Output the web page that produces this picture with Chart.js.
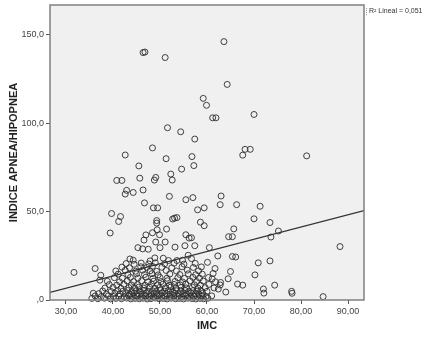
<!DOCTYPE html>
<html lang="es">
<head>
<meta charset="UTF-8">
<title>IMC - Indice apnea/hipopnea</title>
<script src="https://cdn.jsdelivr.net/npm/chart.js"></script>
</head>
<body style="margin:0; background:#fff;">

<div style="width:426px; height:341px;">
    <canvas id="myChart" width="426" height="341"></canvas>
</div>

<script>
// casos con IAH alto (puntos sueltos de la parte superior)
const puntosAltos = [
    [46.4,139.9],[46.8,140.2],[51.1,137.1],[63.6,146.1],[64.3,121.9],[59.2,114.0],[59.9,110.1],
    [61.2,103.0],[61.9,103.0],[70.0,104.9],[51.6,97.4],[54.4,95.1],[57.4,91.0],[48.4,86.0],
    [42.6,82.0],[51.3,79.9],[56.8,81.1],[45.5,75.8],[57.2,76.0],[54.6,74.0],[52.3,71.2],
    [45.7,68.9],[49.1,69.3],[48.8,67.8],[40.8,67.6],[41.9,67.6],[52.6,67.8],[42.9,62.0],
    [42.6,59.9],[44.3,60.8],[46.4,62.2],[52.0,58.6],[55.5,56.7],[57.0,57.9],[63.0,58.8],
    [62.8,53.9],[66.3,53.9],[46.7,54.9],[48.6,52.1],[49.5,52.1],[58.0,51.0],[59.4,52.1],
    [71.3,53.0],[67.6,81.9],[68.1,85.2],[69.2,85.2],[81.2,81.5]
];

// casos intermedios
const puntosMedios = [
    [39.7,48.9],[41.6,47.2],[41.2,44.4],[49.3,44.9],[49.3,43.5],[52.7,45.8],[53.1,46.3],
    [53.6,46.6],[58.6,44.0],[59.4,42.0],[70.0,45.9],[73.4,43.8],[49.4,39.7],[51.4,40.1],
    [65.7,40.2],[75.2,39.0],[39.4,37.9],[48.4,38.0],[47.0,36.8],[49.9,36.9],[55.5,36.9],
    [56.2,35.0],[56.7,35.2],[64.6,35.8],[65.4,35.8],[73.6,35.6],[46.6,33.9],[49.1,32.8],
    [51.1,32.8],[45.3,29.6],[46.3,28.9],[47.5,28.7],[50.0,29.6],[53.2,29.9],[55.3,30.7],
    [57.4,30.7],[60.5,29.6],[88.3,30.2],[62.3,24.9],[65.4,24.6],[66.1,24.3],[60.1,21.3],
    [70.9,21.0],[73.4,22.1],[61.7,17.8],[61.3,15.0],[65.0,16.1],[70.2,14.2],[61.1,12.0],
    [62.9,9.9],[64.5,12.0],[66.5,9.0],[67.6,8.4],[74.4,8.4],[72.0,6.2],[72.1,3.9],
    [78.0,4.9],[78.1,3.8],[84.7,1.9],[64.0,4.5],[62.4,6.2],[31.7,15.6],[36.2,17.8],
    [48.9,23.8],[47.9,22.1],[50.7,23.6],[51.8,22.3],[53.6,22.3],[54.8,22.5],[56.0,25.3],
    [56.7,23.4],[43.6,23.2],[44.3,22.5]
];

// nube densa de IAH bajo
const puntosBajos = [
    [35.5,0.9],[36.8,0.7],[38.2,1.0],[39.5,0.6],[40.6,0.9],[41.8,0.7],[42.9,1.1],[43.8,0.6],
    [44.7,0.9],[45.6,0.7],[46.4,1.0],[47.3,0.6],[48.1,0.8],[49.0,1.1],[49.8,0.7],[50.7,0.9],
    [51.5,0.6],[52.4,1.0],[53.3,0.7],[54.1,0.9],[55.0,0.6],[55.9,1.0],[56.8,0.8],[57.6,0.6],
    [58.5,0.9],[59.3,0.7],[60.2,1.0],
    [36.2,2.3],[37.5,1.9],[39.0,2.4],[40.1,2.0],[41.2,2.2],[42.4,1.8],[43.3,2.5],[44.2,2.0],
    [45.1,2.3],[46.0,1.9],[46.9,2.4],[47.7,2.1],[48.6,1.8],[49.4,2.4],[50.3,2.0],[51.1,2.3],
    [52.0,1.9],[52.9,2.5],[53.7,2.1],[54.6,1.8],[55.4,2.4],[56.3,2.0],[57.2,2.2],[58.0,1.9],
    [58.9,2.4],[59.8,2.0],[61.0,2.3],
    [35.8,3.8],[37.0,3.6],[38.6,3.3],[40.4,3.8],[41.5,3.4],[42.7,3.7],[43.6,3.2],[44.5,3.9],
    [45.4,3.5],[46.2,3.3],[47.1,3.8],[48.0,3.4],[48.8,3.7],[49.7,3.2],[50.5,3.9],[51.4,3.5],
    [52.2,3.3],[53.1,3.8],[54.0,3.4],[54.9,3.6],[55.7,3.2],[56.6,3.9],[57.5,3.5],[58.3,3.3],
    [59.1,3.7],
    [37.8,5.1],[39.6,4.8],[41.0,5.3],[42.1,4.9],[43.1,5.4],[44.0,4.8],[44.9,5.2],[45.8,5.0],
    [46.6,5.5],[47.5,4.9],[48.4,5.2],[49.2,4.8],[50.1,5.4],[51.0,5.0],[51.8,5.3],[52.7,4.8],
    [53.5,5.2],[54.4,5.0],[55.3,5.5],[56.1,4.9],[57.0,5.3],[57.9,5.0],[58.7,5.2],[60.0,4.9],
    [38.3,6.8],[40.0,7.1],[41.7,6.6],[43.4,7.0],[44.6,6.7],[45.5,7.3],[46.5,6.8],[47.8,7.2],
    [48.9,6.6],[49.9,7.0],[51.2,6.9],[52.3,7.3],[53.4,6.7],[54.5,7.1],[55.6,6.8],[56.9,7.2],
    [58.1,6.7],[59.6,7.0],[61.5,6.8],
    [39.2,8.7],[40.8,8.4],[42.3,8.9],[43.9,8.5],[45.2,8.8],[46.8,8.3],[48.2,9.0],[49.5,8.6],
    [50.6,8.9],[52.0,8.4],[53.0,8.8],[54.3,8.5],[55.5,9.0],[57.3,8.6],[58.6,8.4],[60.4,8.8],
    [62.8,8.5],
    [38.8,10.6],[41.4,10.3],[43.0,10.8],[44.4,10.4],[46.1,10.9],[47.4,10.2],[48.7,10.7],
    [50.2,10.4],[51.6,10.9],[53.2,10.5],[54.8,10.2],[56.4,10.8],[57.8,10.4],[59.2,10.7],
    [61.8,10.3],
    [37.2,11.2],[40.3,12.6],[42.0,12.3],[43.7,12.8],[45.3,12.4],[47.0,12.9],[48.5,12.2],
    [50.0,12.7],[51.5,12.3],[53.8,12.6],[55.2,12.2],[57.0,12.8],[58.4,12.4],[60.3,12.7],
    [37.4,14.0],[41.1,14.6],[43.2,14.3],[45.0,14.8],[46.7,14.4],[48.3,14.9],[49.6,14.2],
    [52.1,14.7],[54.2,14.4],[56.0,14.8],[57.6,14.3],[59.0,14.6],
    [40.6,16.4],[42.6,16.8],[44.8,16.3],[46.3,16.9],[47.9,16.5],[49.3,16.2],[51.3,16.7],
    [53.5,16.4],[55.8,16.9],[58.2,16.5],
    [41.9,18.6],[43.5,18.2],[45.9,18.8],[47.2,18.4],[48.4,19.0],[50.4,18.5],[52.5,18.2],
    [54.7,18.8],[57.1,18.4],[58.8,18.7],
    [42.8,20.6],[44.5,20.2],[46.0,20.9],[47.6,20.4],[49.0,21.0],[51.0,20.5],[53.0,20.8],
    [55.1,20.3],[57.5,20.7]
];

// recta de ajuste lineal (extremos del eje X)
const lineaX = [26.6, 93.4];
const lineaY = [4.3, 50.6];

const ticksX = [30, 40, 50, 60, 70, 80, 90];
const ticksY = [0, 50, 100, 150];
const r2Texto = 'R² Lineal = 0,051';

const puntos = [...puntosAltos, ...puntosMedios, ...puntosBajos].map(p => ({ x: p[0], y: p[1] }));
const recta = lineaX.map((x, i) => ({ x: x, y: lineaY[i] }));

// fondo gris, marco y texto del R2
const marco = {
    id: 'marco',
    beforeDraw(chart) {
        const { ctx, chartArea: a } = chart;
        ctx.save();
        ctx.fillStyle = '#f0f0f0';
        ctx.fillRect(a.left, a.top, a.right - a.left, a.bottom - a.top);
        ctx.restore();
    },
    afterDraw(chart) {
        const { ctx, chartArea: a } = chart;
        ctx.save();
        ctx.strokeStyle = '#808080';
        ctx.lineWidth = 1.5;
        ctx.strokeRect(a.left, a.top, a.right - a.left, a.bottom - a.top);

        ctx.strokeStyle = '#999';
        ctx.lineWidth = 1;
        ctx.setLineDash([1, 1]);
        ctx.beginPath();
        ctx.moveTo(a.right + 2.5, a.top + 3);
        ctx.lineTo(a.right + 2.5, a.top + 10);
        ctx.stroke();
        ctx.setLineDash([]);

        ctx.fillStyle = '#333';
        ctx.font = '7px "Liberation Sans", Arial, sans-serif';
        ctx.textBaseline = 'middle';
        ctx.fillText(r2Texto, a.right + 5, a.top + 6);
        ctx.restore();
    }
};

const fuente = '"Liberation Sans", Arial, sans-serif';

new Chart(document.getElementById('myChart'), {
    data: {
        datasets: [
            {
                type: 'line',
                data: recta,
                borderColor: '#333',
                borderWidth: 1.2,
                pointRadius: 0,
                fill: false
            },
            {
                type: 'scatter',
                data: puntos,
                pointStyle: 'circle',
                pointRadius: 3,
                borderWidth: 1,
                borderColor: 'rgba(45,45,45,0.9)',
                backgroundColor: 'rgba(0,0,0,0)',
                clip: false
            }
        ]
    },
    options: {
        responsive: false,
        animation: false,
        events: [],
        layout: { padding: { top: 4, right: 62, left: 0, bottom: 0 } },
        plugins: { legend: { display: false }, tooltip: { enabled: false } },
        scales: {
            x: {
                type: 'linear',
                min: lineaX[0],
                max: lineaX[1],
                afterBuildTicks: s => { s.ticks = ticksX.map(v => ({ value: v })); },
                afterFit: s => { s.height = 41; s.paddingLeft = 0; s.paddingRight = 0; },
                ticks: {
                    callback: v => v.toFixed(2).replace('.', ','),
                    font: { family: fuente, size: 9 },
                    color: '#444',
                    padding: 2,
                    maxRotation: 0
                },
                grid: { drawOnChartArea: false, tickLength: 4, color: '#555' },
                border: { display: false },
                title: {
                    display: true,
                    text: 'IMC',
                    color: '#222',
                    font: { family: fuente, size: 11, weight: 'bold' },
                    padding: { top: 0, bottom: 8 }
                }
            },
            y: {
                type: 'linear',
                min: 0,
                max: 166.8,
                afterBuildTicks: s => { s.ticks = ticksY.map(v => ({ value: v })); },
                afterFit: s => { s.width = 50; s.paddingTop = 0; s.paddingBottom = 0; },
                ticks: {
                    callback: v => v === 0 ? ',0' : v.toFixed(1).replace('.', ','),
                    font: { family: fuente, size: 9 },
                    color: '#444',
                    padding: 2
                },
                grid: { drawOnChartArea: false, tickLength: 4, color: '#555' },
                border: { display: false },
                title: {
                    display: true,
                    text: 'INDICE APNEA/HIPOPNEA',
                    color: '#222',
                    font: { family: fuente, size: 11, weight: 'bold' },
                    padding: { top: 7, bottom: 0 }
                }
            }
        }
    },
    plugins: [marco]
});
</script>

</body>
</html>
